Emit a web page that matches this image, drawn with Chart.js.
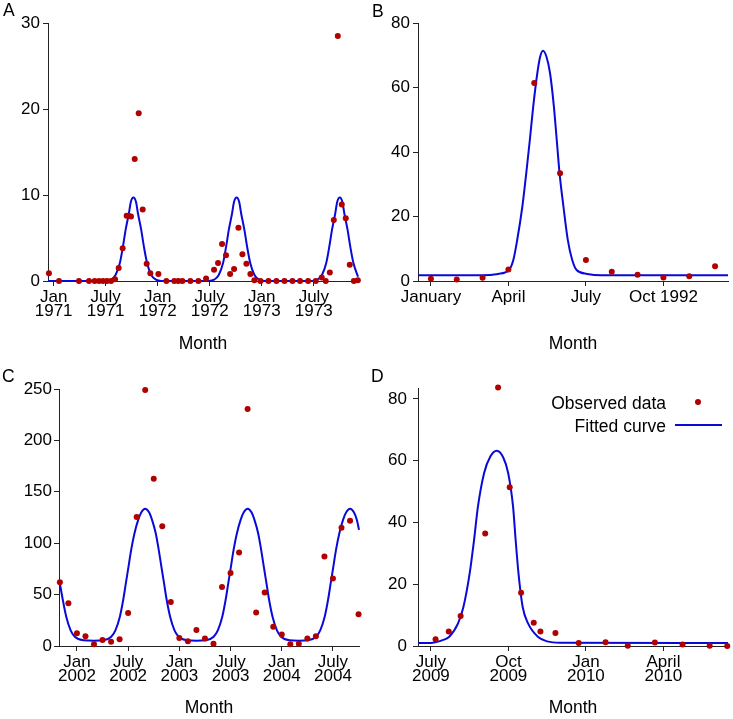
<!DOCTYPE html>
<html>
<head>
<meta charset="utf-8">
<title>Seasonal fits</title>
<script src="https://cdn.jsdelivr.net/npm/chart.js@4.4.0/dist/chart.umd.min.js"></script>
<style>
body { margin: 0; background: #fff; font-family: "Liberation Sans", Arial, sans-serif; }
#page { position: relative; width: 733px; height: 719px; overflow: hidden; }
canvas { position: absolute; }
.tag { position: absolute; font-size: 17.5px; line-height: 17px; color: #000; }
.legend { position: absolute; right: 67px; font-size: 17.5px; line-height: 20px; color: #000; white-space: nowrap; }
.mark { position: absolute; width: 6px; height: 6px; border-radius: 3px; background: #b00000; }
.fitline { position: absolute; height: 2px; background: #0a0ad8; }
</style>
</head>
<body>
<div id="page">
  <canvas id="chartA" width="366" height="360" style="left:0;top:0"></canvas>
  <canvas id="chartB" width="367" height="360" style="left:366px;top:0"></canvas>
  <canvas id="chartC" width="366" height="359" style="left:0;top:360px"></canvas>
  <canvas id="chartD" width="367" height="359" style="left:366px;top:360px"></canvas>

  <div class="tag" style="left:3px;top:2px">A</div>
  <div class="tag" style="left:372px;top:3px">B</div>
  <div class="tag" style="left:2px;top:368px">C</div>
  <div class="tag" style="left:371px;top:368px">D</div>

  <div class="legend" style="top:393px">Observed data</div>
  <div class="mark" style="left:695px;top:399px"></div>
  <div class="legend" style="top:416px">Fitted curve</div>
  <div class="fitline" style="left:675px;top:424px;width:47px"></div>
</div>

<script>
const RED = '#b00000';
const BLUE = '#0a0ad8';
const AXIS = '#222';

// Panel A - months since Jan 1971
const aObsMonth = [-0.54, 0.62, 2.92, 4.08, 4.73, 5.23, 5.69, 6.15, 6.62, 7.08, 7.5, 7.96, 8.42, 8.65, 8.92, 9.35, 9.81, 10.27, 10.73, 11.15,
    12.08, 13.0, 13.92, 14.38, 14.85, 15.77, 16.69, 17.58, 18.5, 18.96, 19.42, 19.88, 20.35, 20.81, 21.31, 21.77, 22.23, 22.69, 23.15,
    23.85, 24.77, 25.69, 26.62, 27.54, 28.42, 29.35, 30.23, 30.92, 31.38, 31.85, 32.31, 32.77, 33.23, 33.69, 34.15, 34.62, 35.08];
const aObsCases = [0.9, 0, 0, 0, 0, 0, 0, 0, 0, 0.2, 1.5, 3.8, 7.6, 7.6, 7.5, 14.2, 19.5, 8.3, 2.0, 0.9,
    0.8, 0, 0, 0, 0, 0, 0, 0.3, 1.3, 2.1, 4.3, 3.0, 0.8, 1.4, 6.2, 3.1, 2.0, 0.8, 0.1,
    0, 0, 0, 0, 0, 0, 0, 0, 0.4, 0, 1.0, 7.1, 28.5, 8.9, 7.3, 1.9, 0, 0.1];
const aFitMonth = [-0.65, 6.0, 6.6, 7.14, 7.63, 7.99, 8.3, 8.68, 8.9, 9.2, 9.5, 9.72, 10.1, 10.41, 10.78, 11.26, 11.8, 12.4,
    17.9, 18.5, 19.04, 19.53, 19.89, 20.2, 20.58, 20.8, 21.1, 21.4, 21.62, 22.0, 22.31, 22.68, 23.16, 23.7, 24.3,
    29.8, 30.4, 30.94, 31.43, 31.79, 32.1, 32.48, 32.7, 33.0, 33.3, 33.52, 33.9, 34.21, 34.58, 35.1];
const aFitCases = [0, 0, 0.15, 0.7, 2.06, 3.99, 5.94, 7.88, 9.18, 9.7, 9.18, 7.88, 5.94, 3.99, 2.06, 0.7, 0.15, 0,
    0, 0.15, 0.7, 2.06, 3.99, 5.94, 7.88, 9.18, 9.7, 9.18, 7.88, 5.94, 3.99, 2.06, 0.7, 0.15, 0,
    0, 0.15, 0.7, 2.06, 3.99, 5.94, 7.88, 9.18, 9.7, 9.18, 7.88, 5.94, 3.99, 2.06, 0.5];
const aTicks = [0, 6, 12, 18, 24, 30];
const aTickLabels = [['Jan', '1971'], ['July', '1971'], ['Jan', '1972'], ['July', '1972'], ['Jan', '1973'], ['July', '1973']];
const aYTicks = [0, 10, 20, 30];

// Panel B - months since January 1992
const bObsMonth = [0, 1, 2, 3, 4, 5, 6, 7, 8, 9, 10, 11];
const bObsCases = [0.7, 0.5, 1.0, 3.6, 61.4, 33.4, 6.5, 2.9, 1.9, 1.1, 1.45, 4.6];
const bFitMonth = [-0.5, 2.0, 2.6, 3.02, 3.19, 3.34, 3.54, 3.69, 3.83, 3.96, 4.12, 4.23, 4.34, 4.47, 4.61, 4.76, 4.87, 4.98,
    5.13, 5.3, 5.47, 5.64, 6.05, 6.6, 11.5];
const bFitCases = [1.8, 1.8, 2.2, 3.4, 6.5, 12.7, 23.1, 33.4, 43.8, 54.1, 64.5, 69.6, 71.4, 69.6, 64.5, 54.1, 43.8, 33.4,
    23.1, 12.7, 6.5, 3.4, 2.2, 1.8, 1.8];
const bTicks = [0, 3, 6, 9];
const bTickLabels = ['January', 'April', 'July', 'Oct 1992'];
const bYTicks = [0, 20, 40, 60, 80];

// Panel C - months since Jan 2002
const cObsMonth = [-2, -1, 0, 1, 2, 3, 4, 5, 6, 7, 8, 9, 10, 11, 12, 13, 14, 15, 16, 17, 18, 19, 20, 21, 22, 23,
    24, 25, 26, 27, 28, 29, 30, 31, 32, 33];
const cObsCases = [62, 41.5, 12.3, 9.4, 1.6, 5.8, 4.2, 6.5, 32, 125.6, 249, 162.6, 116.6, 42.7, 7.8, 4.5, 15.5, 7.4,
    2.3, 57.3, 70.9, 91, 230.6, 32.7, 52.1, 18.8, 11.3, 1.6, 2.3, 7.4, 9.4, 87.1, 65.7, 115, 121.8, 30.8];
const cFitMonth = [-2.02, -1.65, -1.25, -0.75, -0.25, 0.8, 2.0, 3.1,
    4.02, 4.52, 5.03, 5.42, 5.73, 6.04, 6.35, 6.74, 7.17, 7.55, 8.0, 8.45, 8.81, 9.24, 9.59, 9.9, 10.21, 10.52, 10.92, 11.42, 11.92,
    12.9, 14.0, 15.1,
    16.02, 16.52, 17.03, 17.42, 17.73, 18.04, 18.35, 18.74, 19.17, 19.55, 20.0, 20.45, 20.81, 21.24, 21.59, 21.9, 22.21, 22.52, 22.92, 23.42, 23.92,
    24.9, 26.0, 27.1,
    28.02, 28.52, 29.03, 29.42, 29.73, 30.04, 30.35, 30.74, 31.17, 31.55, 32.0, 32.45, 32.81, 33.05];
const cFitCases = [62, 44.7, 28.5, 15.5, 9.0, 5.6, 5.2, 5.6,
    9.0, 15.5, 28.5, 44.7, 60.9, 77, 93.3, 109.5, 122.4, 130, 133.5, 130, 122.4, 109.5, 93.3, 77, 60.9, 44.7, 28.5, 15.5, 9.0,
    5.6, 5.2, 5.6,
    9.0, 15.5, 28.5, 44.7, 60.9, 77, 93.3, 109.5, 122.4, 130, 133.5, 130, 122.4, 109.5, 93.3, 77, 60.9, 44.7, 28.5, 15.5, 9.0,
    5.6, 5.2, 5.6,
    9.0, 15.5, 28.5, 44.7, 60.9, 77, 93.3, 109.5, 122.4, 130, 133.5, 130, 122.4, 113];
const cTicks = [0, 6, 12, 18, 24, 30];
const cTickLabels = [['Jan', '2002'], ['July', '2002'], ['Jan', '2003'], ['July', '2003'], ['Jan', '2004'], ['July', '2004']];
const cYTicks = [0, 50, 100, 150, 200, 250];

// Panel D - months since July 2009
const dObsMonth = [0.18, 0.69, 1.15, 2.1, 2.6, 3.05, 3.49, 3.98, 4.24, 4.82, 5.72, 6.76, 7.62, 8.67, 9.74, 10.79, 11.47];
const dObsCases = [2.2, 4.7, 9.7, 36.4, 83.7, 51.4, 17.2, 7.5, 4.7, 4.2, 1.0, 1.2, 0.05, 1.1, 0.5, 0.05, 0];
const dFitMonth = [-0.5, 0.0, 0.2, 0.45, 0.7, 1.05, 1.26, 1.5, 1.67, 1.82, 2.06, 2.3, 2.55, 2.8, 2.99, 3.18, 3.28, 3.39,
    3.55, 3.76, 4.15, 4.5, 5.0, 11.5];
const dFitCases = [1.0, 1.0, 1.3, 1.9, 2.9, 7.3, 12.7, 23.5, 34.3, 45.1, 56, 61.3, 63.2, 61, 56, 45.1, 34.3, 23.5,
    12.7, 7.3, 2.9, 1.5, 1.05, 1.0];
const dTicks = [0, 3, 6, 9];
const dTickLabels = [['July', '2009'], ['Oct', '2009'], ['Jan', '2010'], ['April', '2010']];
const dYTicks = [0, 20, 40, 60, 80];

Chart.defaults.font.family = '"Liberation Sans", Arial, sans-serif';
Chart.defaults.font.size = 17;
Chart.defaults.color = '#000';

function drawPanel(id, p) {
    const obs = p.obsX.map((x, i) => ({ x: x, y: p.obsY[i] }));
    const fit = p.fitX.map((x, i) => ({ x: x, y: p.fitY[i] }));
    new Chart(document.getElementById(id), {
        type: 'scatter',
        data: {
            datasets: [{
                label: 'Observed data',
                data: obs,
                pointRadius: 3,
                pointBackgroundColor: RED,
                pointBorderWidth: 0,
                clip: false
            }, {
                label: 'Fitted curve',
                data: fit,
                showLine: true,
                pointRadius: 0,
                borderColor: BLUE,
                borderWidth: 2,
                cubicInterpolationMode: 'monotone',
                clip: false
            }]
        },
        options: {
            responsive: false,
            animation: false,
            devicePixelRatio: 1,
            layout: { padding: { top: p.top, right: p.right, left: 0, bottom: 0 } },
            plugins: { legend: { display: false }, tooltip: { enabled: false } },
            scales: {
                x: {
                    type: 'linear',
                    min: p.xMin,
                    max: p.xMax,
                    afterFit: s => { s.height = p.xHeight; },
                    afterBuildTicks: s => { s.ticks = p.xTicks.map(v => ({ value: v })); },
                    ticks: {
                        callback: (v, i) => p.xLabels[i],
                        font: { size: 17, lineHeight: 0.85 },
                        padding: 4,
                        maxRotation: 0,
                        autoSkip: false
                    },
                    grid: { drawOnChartArea: false, tickLength: 5, color: AXIS },
                    border: { color: AXIS },
                    title: { display: true, text: 'Month', font: { size: 17.5 }, padding: { top: 0, bottom: p.titlePad } }
                },
                y: {
                    min: 0,
                    max: p.yMax,
                    afterFit: s => { s.width = p.yWidth; },
                    afterBuildTicks: s => { s.ticks = p.yTicks.map(v => ({ value: v })); },
                    ticks: { padding: p.yPad },
                    grid: { drawOnChartArea: false, tickLength: 5, color: AXIS },
                    border: { color: AXIS }
                }
            }
        }
    });
}

drawPanel('chartA', {
    obsX: aObsMonth, obsY: aObsCases, fitX: aFitMonth, fitY: aFitCases,
    xMin: -0.65, xMax: 35.1, xTicks: aTicks, xLabels: aTickLabels, yMax: 30, yTicks: aYTicks,
    top: 23, right: 8, yWidth: 48, xHeight: 79, yPad: 3, titlePad: 5
});
drawPanel('chartB', {
    obsX: bObsMonth, obsY: bObsCases, fitX: bFitMonth, fitY: bFitCases,
    xMin: -0.5, xMax: 11.5, xTicks: bTicks, xLabels: bTickLabels, yMax: 80, yTicks: bYTicks,
    top: 23, right: 5, yWidth: 52, xHeight: 79, yPad: 3, titlePad: 5
});
drawPanel('chartC', {
    obsX: cObsMonth, obsY: cObsCases, fitX: cFitMonth, fitY: cFitCases,
    xMin: -2.1, xMax: 33.05, xTicks: cTicks, xLabels: cTickLabels, yMax: 250, yTicks: cYTicks,
    top: 29, right: 7, yWidth: 59, xHeight: 73, yPad: 2, titlePad: 0
});
drawPanel('chartD', {
    obsX: dObsMonth, obsY: dObsCases, fitX: dFitMonth, fitY: dFitCases,
    xMin: -0.5, xMax: 11.5, xTicks: dTicks, xLabels: dTickLabels, yMax: 83.5, yTicks: dYTicks,
    top: 28, right: 5, yWidth: 52, xHeight: 73, yPad: 6, titlePad: 0
});
</script>
</body>
</html>
